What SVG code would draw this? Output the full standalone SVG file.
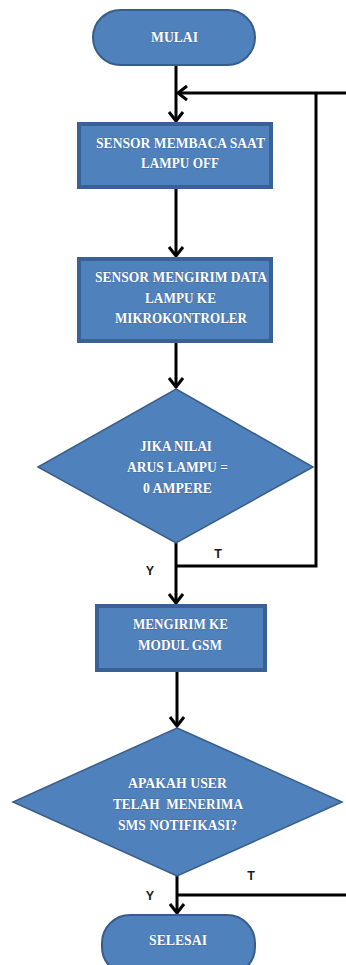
<svg xmlns="http://www.w3.org/2000/svg" width="346" height="965" viewBox="0 0 346 965">
  <defs>
    <marker id="arrow" markerUnits="userSpaceOnUse" markerWidth="20" markerHeight="20" viewBox="-12 -10 14 20" refX="0" refY="0" orient="auto">
      <path d="M-9,-7 L0,0 L-9,7" fill="none" stroke="#000" stroke-width="3" stroke-linejoin="miter"/>
    </marker>
    <style>
      .term { fill: #4F81BD; stroke: #385D8A; stroke-width: 2; }
      .proc { fill: #4F81BD; stroke: #3A6194; stroke-width: 4; }
      .dec { fill: #4F81BD; stroke: #385D8A; stroke-width: 1.5; }
      .lbl { font-family: "Liberation Serif", "DejaVu Serif", serif; font-weight: bold; font-size: 14.5px; fill: #ffffff; stroke: #2E4F78; stroke-width: 0.4; paint-order: stroke; text-anchor: middle; white-space: pre; }
      .edge { fill: none; stroke: #000; stroke-width: 3; }
      .yt { font-family: "Liberation Sans", Arial, sans-serif; font-weight: bold; font-size: 12.5px; fill: #1c1c1c; text-anchor: middle; }
    </style>
  </defs>

  <!-- connectors -->
  <g id="connectors">
    <path class="edge" d="M176,65 V121" marker-end="url(#arrow)"/>
    <path class="edge" d="M346,93 H178" marker-end="url(#arrow)"/>
    <path class="edge" d="M176,566 H316 V93"/>
    <path class="edge" d="M176,188 V256" marker-end="url(#arrow)"/>
    <path class="edge" d="M176,342 V387" marker-end="url(#arrow)"/>
    <path class="edge" d="M176,543 V603" marker-end="url(#arrow)"/>
    <path class="edge" d="M177,671 V726" marker-end="url(#arrow)"/>
    <path class="edge" d="M177,876 V913" marker-end="url(#arrow)"/>
    <path class="edge" d="M177,895 H346"/>
    <text class="yt" x="150" y="575">Y</text>
    <text class="yt" x="218" y="558">T</text>
    <text class="yt" x="150" y="900">Y</text>
    <text class="yt" x="251" y="880">T</text>
  </g>

  <g id="mulai">
    <rect class="term" x="93" y="10" width="162" height="55" rx="27.5" ry="27.5"/>
    <text class="lbl" x="174.5" y="42" textLength="47" lengthAdjust="spacingAndGlyphs">MULAI</text>
  </g>

  <g id="sensor-membaca">
    <rect class="proc" x="79" y="124" width="192" height="63"/>
    <text class="lbl" x="180.5" y="148" textLength="169" lengthAdjust="spacingAndGlyphs">SENSOR MEMBACA SAAT</text>
    <text class="lbl" x="180" y="168" textLength="78" lengthAdjust="spacingAndGlyphs">LAMPU OFF</text>
  </g>

  <g id="sensor-mengirim">
    <rect class="proc" x="79" y="259" width="192" height="82"/>
    <text class="lbl" x="181" y="282" textLength="172" lengthAdjust="spacingAndGlyphs">SENSOR MENGIRIM DATA</text>
    <text class="lbl" x="180.5" y="303" textLength="71" lengthAdjust="spacingAndGlyphs">LAMPU KE</text>
    <text class="lbl" x="181" y="323" textLength="132" lengthAdjust="spacingAndGlyphs">MIKROKONTROLER</text>
  </g>

  <g id="cek-arus">
    <polygon class="dec" points="176,389 313,467 176,543 38,467"/>
    <text class="lbl" x="176" y="451" textLength="72" lengthAdjust="spacingAndGlyphs">JIKA NILAI</text>
    <text class="lbl" x="177.5" y="472" textLength="101" lengthAdjust="spacingAndGlyphs">ARUS LAMPU =</text>
    <text class="lbl" x="177.5" y="493" textLength="69" lengthAdjust="spacingAndGlyphs">0 AMPERE</text>
  </g>

  <g id="kirim-gsm">
    <rect class="proc" x="97" y="606" width="168" height="64"/>
    <text class="lbl" x="180.5" y="629" textLength="95" lengthAdjust="spacingAndGlyphs">MENGIRIM KE</text>
    <text class="lbl" x="180" y="650" textLength="84" lengthAdjust="spacingAndGlyphs">MODUL GSM</text>
  </g>

  <g id="cek-sms">
    <polygon class="dec" points="177,728 342,802 177,876 13,802"/>
    <text class="lbl" x="177.5" y="788" textLength="99" lengthAdjust="spacingAndGlyphs">APAKAH USER</text>
    <text class="lbl" x="178" y="809" textLength="130" lengthAdjust="spacingAndGlyphs">TELAH  MENERIMA</text>
    <text class="lbl" x="177.5" y="830" textLength="119" lengthAdjust="spacingAndGlyphs">SMS NOTIFIKASI?</text>
  </g>

  <g id="selesai">
    <rect class="term" x="102" y="915" width="153" height="60" rx="28" ry="28"/>
    <text class="lbl" x="178" y="945" textLength="58" lengthAdjust="spacingAndGlyphs">SELESAI</text>
  </g>
</svg>
